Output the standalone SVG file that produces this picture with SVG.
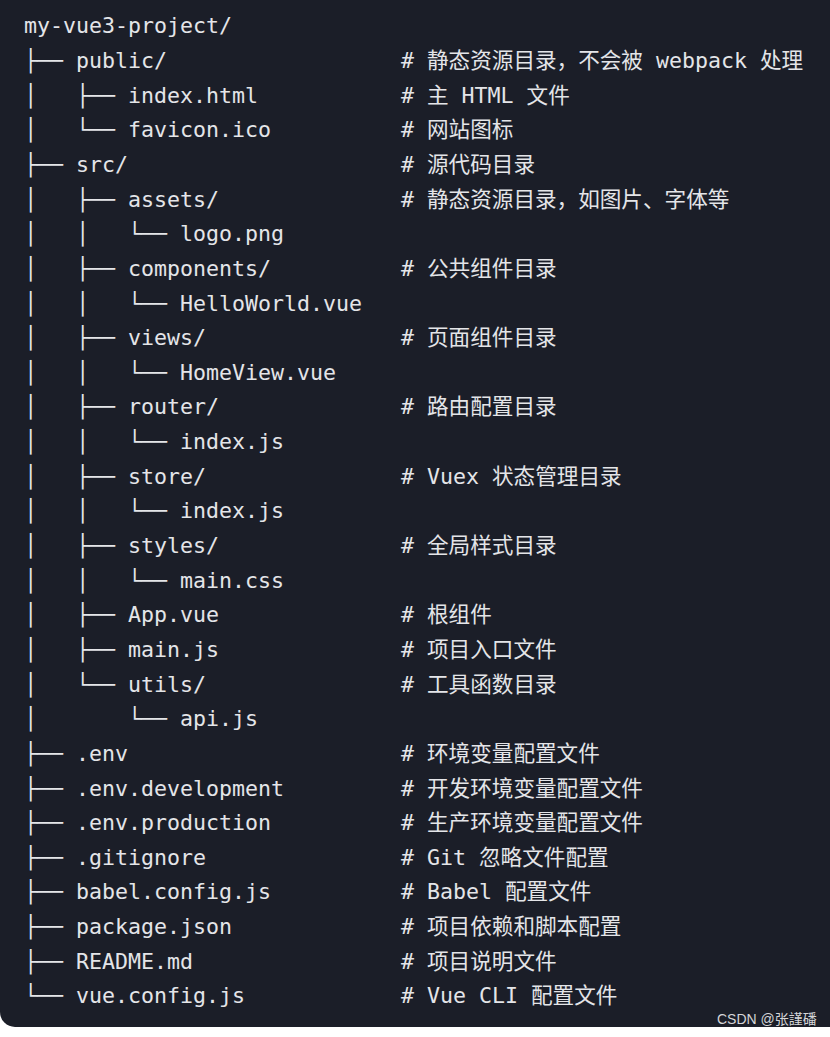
<svg xmlns="http://www.w3.org/2000/svg" width="830" height="1037" viewBox="0 0 830 1037">
<style>
  .t { font-family: "DejaVu Sans Mono", "Noto Sans CJK SC", monospace; font-size: 21.6px; fill: #e4e5e8; white-space: pre; }
  .wm { font-family: "Liberation Sans", "Noto Sans CJK SC", sans-serif; font-size: 14px; fill: #d4d5d8; }
</style>
<rect x="0" y="0" width="830" height="1037" fill="#ffffff"/>
<path d="M0 0 H830 V1027 H15 A15 15 0 0 1 0 1012 Z" fill="#1b1e28"/>
<g id="row-0"><text class="t" x="24" y="33.4">my-vue3-project/</text></g>
<g id="row-1"><text class="t" x="24" y="68">├── public/</text><text class="t" x="401" y="68"># 静态资源目录，不会被 webpack 处理</text></g>
<g id="row-2"><text class="t" x="24" y="102.7">│   ├── index.html</text><text class="t" x="401" y="102.7"># 主 HTML 文件</text></g>
<g id="row-3"><text class="t" x="24" y="137.3">│   └── favicon.ico</text><text class="t" x="401" y="137.3"># 网站图标</text></g>
<g id="row-4"><text class="t" x="24" y="172">├── src/</text><text class="t" x="401" y="172"># 源代码目录</text></g>
<g id="row-5"><text class="t" x="24" y="206.6">│   ├── assets/</text><text class="t" x="401" y="206.6"># 静态资源目录，如图片、字体等</text></g>
<g id="row-6"><text class="t" x="24" y="241.2">│   │   └── logo.png</text></g>
<g id="row-7"><text class="t" x="24" y="275.9">│   ├── components/</text><text class="t" x="401" y="275.9"># 公共组件目录</text></g>
<g id="row-8"><text class="t" x="24" y="310.5">│   │   └── HelloWorld.vue</text></g>
<g id="row-9"><text class="t" x="24" y="345.2">│   ├── views/</text><text class="t" x="401" y="345.2"># 页面组件目录</text></g>
<g id="row-10"><text class="t" x="24" y="379.8">│   │   └── HomeView.vue</text></g>
<g id="row-11"><text class="t" x="24" y="414.4">│   ├── router/</text><text class="t" x="401" y="414.4"># 路由配置目录</text></g>
<g id="row-12"><text class="t" x="24" y="449.1">│   │   └── index.js</text></g>
<g id="row-13"><text class="t" x="24" y="483.7">│   ├── store/</text><text class="t" x="401" y="483.7"># Vuex 状态管理目录</text></g>
<g id="row-14"><text class="t" x="24" y="518.4">│   │   └── index.js</text></g>
<g id="row-15"><text class="t" x="24" y="553">│   ├── styles/</text><text class="t" x="401" y="553"># 全局样式目录</text></g>
<g id="row-16"><text class="t" x="24" y="587.6">│   │   └── main.css</text></g>
<g id="row-17"><text class="t" x="24" y="622.3">│   ├── App.vue</text><text class="t" x="401" y="622.3"># 根组件</text></g>
<g id="row-18"><text class="t" x="24" y="656.9">│   ├── main.js</text><text class="t" x="401" y="656.9"># 项目入口文件</text></g>
<g id="row-19"><text class="t" x="24" y="691.6">│   └── utils/</text><text class="t" x="401" y="691.6"># 工具函数目录</text></g>
<g id="row-20"><text class="t" x="24" y="726.2">│       └── api.js</text></g>
<g id="row-21"><text class="t" x="24" y="760.8">├── .env</text><text class="t" x="401" y="760.8"># 环境变量配置文件</text></g>
<g id="row-22"><text class="t" x="24" y="795.5">├── .env.development</text><text class="t" x="401" y="795.5"># 开发环境变量配置文件</text></g>
<g id="row-23"><text class="t" x="24" y="830.1">├── .env.production</text><text class="t" x="401" y="830.1"># 生产环境变量配置文件</text></g>
<g id="row-24"><text class="t" x="24" y="864.8">├── .gitignore</text><text class="t" x="401" y="864.8"># Git 忽略文件配置</text></g>
<g id="row-25"><text class="t" x="24" y="899.4">├── babel.config.js</text><text class="t" x="401" y="899.4"># Babel 配置文件</text></g>
<g id="row-26"><text class="t" x="24" y="934">├── package.json</text><text class="t" x="401" y="934"># 项目依赖和脚本配置</text></g>
<g id="row-27"><text class="t" x="24" y="968.7">├── README.md</text><text class="t" x="401" y="968.7"># 项目说明文件</text></g>
<g id="row-28"><text class="t" x="24" y="1003.3">└── vue.config.js</text><text class="t" x="401" y="1003.3"># Vue CLI 配置文件</text></g>
<g id="watermark"><text class="wm" x="717" y="1024">CSDN @张謹磻</text></g>
</svg>
